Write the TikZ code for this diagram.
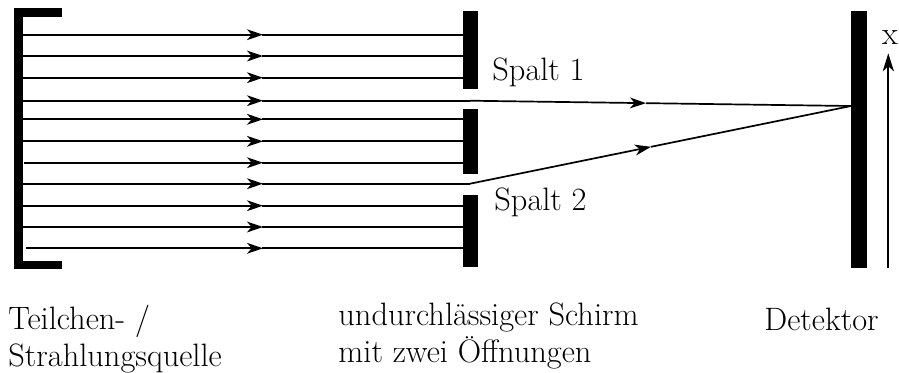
\documentclass[tikz,border=0pt]{standalone}
\usetikzlibrary{arrows.meta}
\begin{document}
\begin{tikzpicture}[x=0.5pt,y=-0.5pt,
  beam/.style={line width=0.85pt},
  flowtip/.style={-{Stealth[length=8pt,width=5.4pt,inset=2.3pt]}},
  axistip/.style={-{Stealth[length=9pt,width=5.6pt,inset=2.5pt]}},
  lbl/.style={font=\fontsize{16.2}{18.5}\selectfont, inner sep=0pt}]
\useasboundingbox (0,0) rectangle (899,372);

% source bracket
\draw[line width=4.2pt] (61.5,12.5) -- (18.5,12.5) -- (18.5,265) -- (62,265);

% opaque screen with two slits
\fill (463,10.7) rectangle (478,89.3);
\fill (463,109) rectangle (478,174.3);
\fill (463,195) rectangle (478,266.7);

% detector
\fill (851,10.7) rectangle (867,268.3);

% key points
\coordinate (slit1) at (470,100.7);
\coordinate (slit2) at (470,183.7);
\coordinate (hit) at (851,106);

% beams blocked by the screen
\foreach \y/\x in {34.7/23, 56/23, 77.7/23, 119.3/23, 141.3/23, 162.7/24,
                   205.7/23, 227/23, 248.3/26} {
  \draw[beam,flowtip] (\x,\y) -- (263,\y);
  \draw[beam] (262,\y) -- (463,\y);
}

% beams passing the slits
\draw[beam,flowtip] (23,100.7) -- (263,100.7);
\draw[beam] (262,100.7) -- (slit1);
\path (slit1) -- (hit) coordinate[pos=0.462] (m1);
\draw[beam,flowtip] (slit1) -- (m1);
\draw[beam] (m1) -- (hit);

\draw[beam,flowtip] (23,183.7) -- (263,183.7);
\draw[beam] (262,183.7) -- (slit2);
\path (slit2) -- (hit) coordinate[pos=0.475] (m2);
\draw[beam,flowtip] (slit2) -- (m2);
\draw[beam] (m2) -- (hit);

% position axis
\coordinate (axbot) at (888.3,268);
\coordinate (axtop) at (888.3,53.3);
\draw[beam,axistip] (axbot) -- (axtop);
\node[lbl, anchor=base] (xlab) at (890,44) {x};

% labels
\node[lbl, anchor=base west] (s1) at (492,80) {Spalt 1};
\node[lbl, anchor=base west] (s2) at (494,210.7) {Spalt 2};

% captions (a multi-line node's base is its last line)
\node[lbl, anchor=base west, align=left] (src) at (8,366) {Teilchen- /\\Strahlungsquelle};
\node[lbl, anchor=base west, align=left] (scr) at (338,362.7) {undurchlässiger Schirm\\mit zwei Öffnungen};
\node[lbl, anchor=base west] (det) at (764,330.5) {Detektor};
\end{tikzpicture}
\end{document}
